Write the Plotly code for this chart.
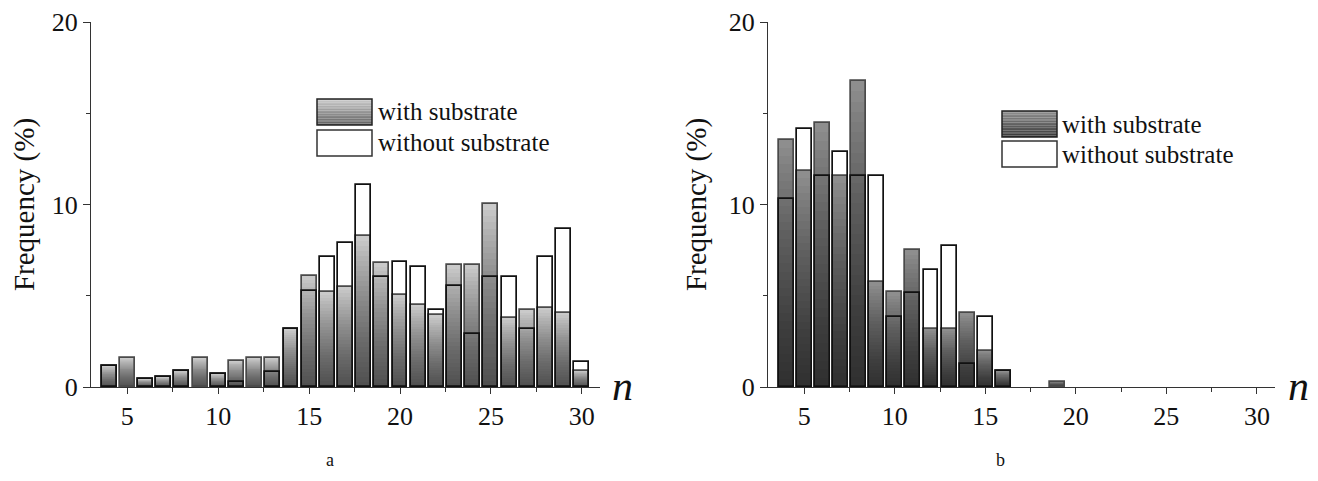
import plotly.graph_objects as go

# ---------------- data ----------------
n_vals = list(range(4, 31))
with_a = [1.15, 1.6, 0.44, 0.55, 0.88, 1.6, 0.71, 1.43, 1.6, 1.6, 3.17, 6.08, 5.22, 5.49,
          8.28, 6.81, 5.05, 4.51, 3.92, 6.68, 6.68, 10.02, 3.77, 4.21, 4.34, 4.07, 0.9]
without_a = [1.15, 0, 0.44, 0.55, 0.88, 0, 0.71, 0.26, 0, 0.8, 3.17, 5.26, 7.12, 7.91,
             11.06, 6.04, 6.87, 6.59, 4.21, 5.53, 2.91, 6.04, 6.04, 3.17, 7.12, 8.68, 1.36]
with_b = [13.55, 11.83, 14.45, 11.54, 16.76, 5.75, 5.18, 7.49, 3.17, 3.17, 4.03, 2.0, 0.86,
          0, 0, 0.3, 0, 0, 0, 0, 0, 0, 0, 0, 0, 0, 0]
without_b = [10.29, 14.16, 11.58, 12.88, 11.58, 11.58, 3.85, 5.13, 6.43, 7.71, 1.28, 3.83, 0.86,
             0, 0, 0, 0, 0, 0, 0, 0, 0, 0, 0, 0, 0, 0]
x_ticks = [5, 10, 15, 20, 25, 30]
y_ticks = [0, 10, 20]
series_names = ["with substrate", "without substrate"]
panel_labels = ["a", "b"]

FONT = "Liberation Serif"
BAR_W = 0.82
K = 30

fig = go.Figure()


def nz(vals):
    return [v if v > 0 else None for v in vals]


def add_panel(xa, ya, with_v, without_v, top_gray, alpha):
    fig.add_trace(go.Bar(x=n_vals, y=nz(with_v), width=BAR_W, xaxis=xa, yaxis=ya,
                         marker=dict(color=f"rgb({top_gray},{top_gray},{top_gray})",
                                     line=dict(width=0)),
                         showlegend=False, hoverinfo="skip"))
    for k in range(1, K):
        fig.add_trace(go.Bar(x=n_vals, y=nz([v * k / K for v in with_v]), width=BAR_W,
                             xaxis=xa, yaxis=ya,
                             marker=dict(color=f"rgba(0,0,0,{alpha})", line=dict(width=0)),
                             showlegend=False, hoverinfo="skip"))
    fig.add_trace(go.Bar(x=n_vals, y=nz(with_v), width=BAR_W, xaxis=xa, yaxis=ya,
                         marker=dict(color="rgba(0,0,0,0)", line=dict(color="#4a4a4a", width=1.7)),
                         name=series_names[0], showlegend=False))
    fig.add_trace(go.Bar(x=n_vals, y=nz(without_v), width=BAR_W, xaxis=xa, yaxis=ya,
                         marker=dict(color="rgba(255,255,255,0)", line=dict(color="#111111", width=1.7)),
                         name=series_names[1], showlegend=False))


add_panel("x", "y", with_a, without_a, 202, 0.026)
add_panel("x2", "y2", with_b, without_b, 142, 0.030)

# page body has an 8px margin: size the figure to fit inside the window
OFF = 8
W, H = 1318 - 2 * OFF, 481 - 2 * OFF


def px_x(v):
    return (v - OFF) / W


def px_y(v):
    return 1 - (v - OFF) / H


ydom = [px_y(387), px_y(22)]
dom_a = [px_x(91), px_x(600)]
dom_b = [px_x(768), px_x(1275)]

axis_line = "#333333"
xcommon = dict(range=[3, 31], tickvals=x_ticks, ticks="outside", ticklen=6, tickwidth=1,
               tickcolor=axis_line, showline=True, linecolor=axis_line, linewidth=1.2,
               showgrid=False, zeroline=False, automargin=False,
               tickfont=dict(family=FONT, size=26, color="#111"),
               minor=dict(tickvals=[7.5, 12.5, 17.5, 22.5, 27.5], ticks="outside", ticklen=4,
                          tickcolor=axis_line))
ycommon = dict(range=[0, 20], tickvals=y_ticks, ticks="outside", ticklen=7, tickwidth=1,
               tickcolor=axis_line, showline=True, linecolor=axis_line, linewidth=1.2,
               showgrid=False, zeroline=False, automargin=False,
               tickfont=dict(family=FONT, size=26, color="#111"),
               title=dict(text="Frequency (%)", font=dict(family=FONT, size=29, color="#111"),
                          standoff=13),
               minor=dict(tickvals=[5, 15], ticks="outside", ticklen=4, tickcolor=axis_line))
xtop = dict(range=[3, 31], tickvals=x_ticks, ticks="inside", ticklen=6, tickcolor=axis_line,
            showticklabels=False, showline=True, linecolor=axis_line, linewidth=1.2,
            showgrid=False, zeroline=False, side="top", automargin=False)
yright = dict(range=[0, 20], tickvals=[4, 8, 12, 16], ticks="inside", ticklen=6,
              tickcolor=axis_line, showticklabels=False, showline=True, linecolor=axis_line,
              linewidth=1.2, showgrid=False, zeroline=False, side="right", automargin=False)

fig.update_layout(
    width=W, height=H, margin=dict(l=0, r=0, t=0, b=0, autoexpand=False),
    paper_bgcolor="white", plot_bgcolor="white", barmode="overlay", bargap=0,
    xaxis=dict(domain=dom_a, anchor="y", **xcommon),
    yaxis=dict(domain=ydom, anchor="x", **ycommon),
    xaxis2=dict(domain=dom_b, anchor="y2", **xcommon),
    yaxis2=dict(domain=ydom, anchor="x2", **ycommon),
    xaxis3=dict(domain=dom_a, anchor="y", overlaying="x", **xtop),
    yaxis3=dict(domain=ydom, anchor="x", overlaying="y", **yright),
    xaxis4=dict(domain=dom_b, anchor="y2", overlaying="x2", **xtop),
    yaxis4=dict(domain=ydom, anchor="x2", overlaying="y2", **yright),
    showlegend=False,
)


def legend(x0, x1, y_boxes, top_gray, bot_gray, text_x):
    (a0, a1), (b0, b1) = y_boxes
    N = 16
    for i in range(N):
        g = int(round(top_gray + (bot_gray - top_gray) * (i + 0.5) / N))
        ya = a0 + (a1 - a0) * i / N
        yb = a0 + (a1 - a0) * (i + 1) / N
        fig.add_shape(type="rect", xref="paper", yref="paper",
                      x0=px_x(x0), x1=px_x(x1), y0=px_y(yb), y1=px_y(ya),
                      fillcolor=f"rgb({g},{g},{g})", line=dict(width=0), layer="above")
    fig.add_shape(type="rect", xref="paper", yref="paper",
                  x0=px_x(x0), x1=px_x(x1), y0=px_y(a1), y1=px_y(a0),
                  fillcolor="rgba(0,0,0,0)", line=dict(color="#222", width=1.5), layer="above")
    fig.add_shape(type="rect", xref="paper", yref="paper",
                  x0=px_x(x0), x1=px_x(x1), y0=px_y(b1), y1=px_y(b0),
                  fillcolor="white", line=dict(color="#333", width=1.5), layer="above")
    for name, (c0, c1) in zip(series_names, y_boxes):
        fig.add_annotation(xref="paper", yref="paper", x=px_x(text_x), y=px_y((c0 + c1) / 2),
                           text=name, showarrow=False, xanchor="left", yanchor="middle",
                           font=dict(family=FONT, size=25, color="#111"))


legend(317, 372, [(99, 125), (130, 156)], 205, 95, 376)
legend(1002, 1057, [(111, 137), (141, 167)], 145, 55, 1060)

for xpx in (610, 1286):
    fig.add_annotation(xref="paper", yref="paper", x=px_x(xpx), y=px_y(386), text="<i>n</i>",
                       showarrow=False, xanchor="left", yanchor="middle",
                       font=dict(family=FONT, size=42, color="#111"))

for lab, xpx in zip(panel_labels, (330, 1000)):
    fig.add_annotation(xref="paper", yref="paper", x=px_x(xpx), y=px_y(472), text=lab,
                       showarrow=False, xanchor="center", yanchor="bottom",
                       font=dict(family=FONT, size=18, color="#111"))

fig.write_html("out.html")
